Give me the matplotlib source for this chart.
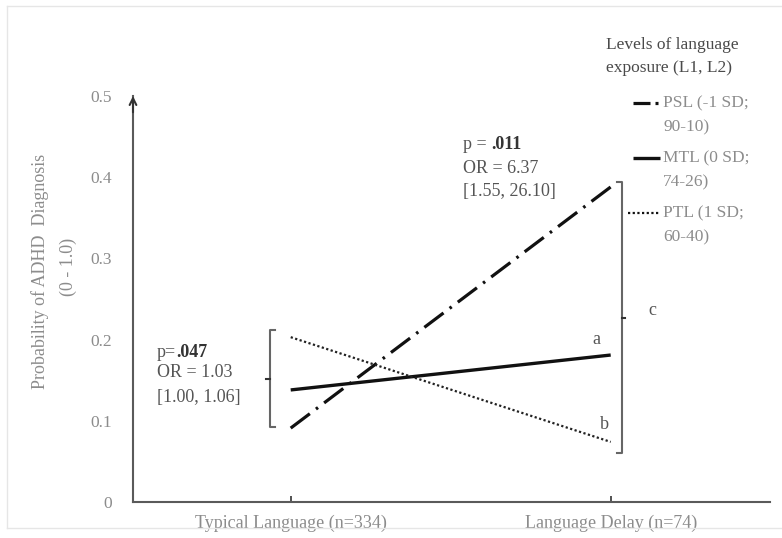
import matplotlib
matplotlib.use('Agg')
import matplotlib.pyplot as plt
from matplotlib.lines import Line2D

# ---- data ----
categories = ['Typical Language (n=334)', 'Language Delay (n=74)']
psl = [0.091, 0.388]
mtl = [0.138, 0.181]
ptl = [0.203, 0.074]
yticks = [0, 0.1, 0.2, 0.3, 0.4, 0.5]
ytick_labels = ['0', '0.1', '0.2', '0.3', '0.4', '0.5']
legend_title = ['Levels of language', 'exposure (L1, L2)']
legend_labels = [('PSL (-1 SD;', '90-10)'), ('MTL (0 SD;', '74-26)'), ('PTL (1 SD;', '60-40)')]
left_stats = ('p=', '.047', 'OR = 1.03', '[1.00, 1.06]')
right_stats = ('p = ', '.011', 'OR = 6.37', '[1.55, 26.10]')
ylabel_lines = ['Probability of ADHD  Diagnosis', '(0 - 1.0)']

plt.rcParams['font.family'] = ['Liberation Serif', 'DejaVu Serif']

W, H = 782, 538
fig = plt.figure(figsize=(W / 100, H / 100), dpi=100)
fx = lambda px: px / W
fy = lambda py: 1 - py / H

ax = fig.add_axes([fx(133), fy(502), (770 - 133) / W, (502 - 96) / H])
xs = [0, 1]
ax.set_xlim(-(290.7 - 133) / 320, 1 + (770 - 610.7) / 320)
ax.set_ylim(0, 0.5)

axis_col = '#5a5a5a'
for s in ['top', 'right']:
    ax.spines[s].set_visible(False)
for s in ['left', 'bottom']:
    ax.spines[s].set_color(axis_col)
    ax.spines[s].set_linewidth(1.5)

ax.annotate('', xy=(0, 1.0), xytext=(0, 0.96), xycoords='axes fraction',
            arrowprops=dict(arrowstyle='->', color='#333', lw=1.5,
                            mutation_scale=12, shrinkA=0, shrinkB=0))

ax.set_yticks(yticks)
ax.set_yticklabels(ytick_labels)
ax.tick_params(axis='y', length=0, pad=15, labelsize=12.5, labelcolor='#8c8c8c')
ax.set_xticks(xs)
ax.set_xticklabels(categories)
ax.tick_params(axis='x', direction='in', length=4, width=1.2, color='#333',
               pad=9, labelsize=13, labelcolor='#8c8c8c')

# ---- series ----
ax.plot(xs, psl, color='#111111', lw=2.3, dashes=(7.5, 2.4, 0.8, 2.4))
ax.plot(xs, mtl, color='#111111', lw=2.4, solid_capstyle='butt')
ax.plot(xs, ptl, color='#222222', lw=1.6, dashes=(1, 1.1))

# ---- brackets ----
br_col = '#666666'
serif = 0.016
lt, lb = max(psl[0], mtl[0], ptl[0]) + 0.009, min(psl[0], mtl[0], ptl[0]) + 0.001
lx = -0.065
ax.plot([lx + serif, lx, lx, lx + serif], [lt, lt, lb, lb], color=br_col, lw=1.5)
ax.plot([lx - serif * 0.7, lx], [(lt + lb) / 2] * 2, color='#333', lw=1.5)

rt, rb = max(psl[1], mtl[1], ptl[1]) + 0.006, min(psl[1], mtl[1], ptl[1]) - 0.014
rx = 1.035
ax.plot([rx - serif, rx, rx, rx - serif], [rt, rt, rb, rb], color=br_col, lw=1.5)
ax.plot([rx, rx + serif * 0.7], [(rt + rb) / 2] * 2, color='#333', lw=1.5)

# ---- annotations ----
txt_col = '#555555'
fs = 13

def stat_block(x, ys, stats):
    t = ax.text(x, ys[0], stats[0], fontsize=fs, color=txt_col, va='center', ha='left')
    ax.annotate(stats[1], xy=(1, 0), xycoords=t, va='bottom', ha='left',
                fontsize=fs, color='#333333', fontweight='bold')
    ax.text(x, ys[1], stats[2], fontsize=fs, color=txt_col, va='center', ha='left')
    ax.text(x, ys[2], stats[3], fontsize=fs, color=txt_col, va='center', ha='left')

stat_block(-0.418, [0.1847, 0.159, 0.129], left_stats)
stat_block(0.538, [0.44, 0.411, 0.383], right_stats)

ax.text(0.954, 0.2, 'a', fontsize=fs, color=txt_col, va='center', ha='center')
ax.text(0.979, 0.095, 'b', fontsize=fs, color=txt_col, va='center', ha='center')
ax.text(1.129, 0.236, 'c', fontsize=fs, color=txt_col, va='center', ha='center')

# ---- y label ----
fig.text(fx(40), fy(271), ylabel_lines[0], rotation=90, fontsize=13,
         color='#8c8c8c', ha='center', va='center')
fig.text(fx(68), fy(267), ylabel_lines[1], rotation=90, fontsize=13,
         color='#8c8c8c', ha='center', va='center')

# ---- legend (manual) ----
fig.text(fx(606), fy(45), legend_title[0], fontsize=12.5, color='#4a4a4a', va='center')
fig.text(fx(606), fy(68), legend_title[1], fontsize=12.5, color='#4a4a4a', va='center')
entry_y = [103, 158, 213]

def seg(x0, x1, y, **kw):
    fig.add_artist(Line2D([fx(x0), fx(x1)], [fy(y), fy(y)], color='#111111',
                          transform=fig.transFigure, **kw))

# PSL: long dash then a dot
seg(633, 650, entry_y[0], lw=2.3, solid_capstyle='butt')
seg(655, 658, entry_y[0], lw=2.3, solid_capstyle='butt')
# MTL: solid
seg(633, 660, entry_y[1], lw=2.4, solid_capstyle='butt')
# PTL: dotted
seg(628, 660, entry_y[2], lw=1.6, dashes=(1, 1.1))

for (l1, l2), y in zip(legend_labels, entry_y):
    fig.text(fx(663), fy(y), l1, fontsize=12.5, color='#8c8c8c', va='center')
    fig.text(fx(663), fy(y + 24), l2, fontsize=12.5, color='#8c8c8c', va='center')

# ---- faint page frame ----
frame_col = '#e6e6e6'
fig.add_artist(Line2D([fx(7), fx(7)], [fy(6), fy(528)], color=frame_col, lw=1, transform=fig.transFigure))
fig.add_artist(Line2D([fx(7), fx(782)], [fy(6), fy(6)], color=frame_col, lw=1, transform=fig.transFigure))
fig.add_artist(Line2D([fx(7), fx(782)], [fy(528), fy(528)], color=frame_col, lw=1, transform=fig.transFigure))

fig.savefig('out.png', dpi=100)
